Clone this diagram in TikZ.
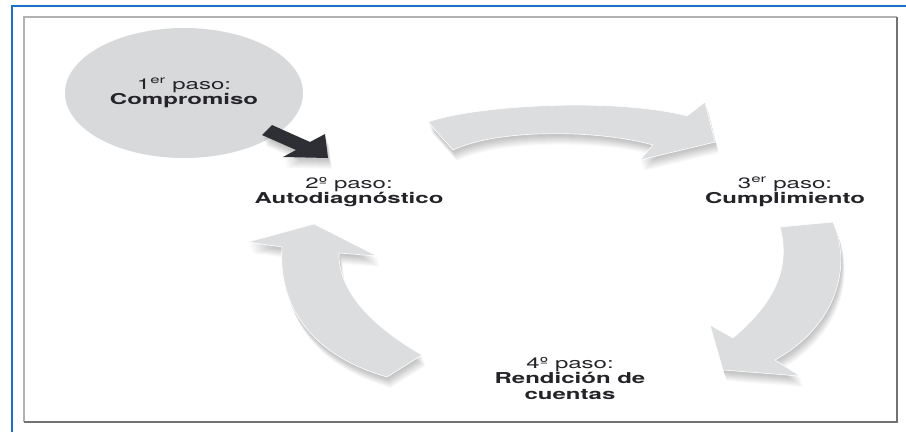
\documentclass[tikz,border=0pt]{standalone}
\usepackage{fontspec}
\setmainfont{TeX Gyre Heros}
\newfontfamily\pasofont{TeX Gyre Heros}[FakeStretch=1.6]
\usepackage{xcolor}
\usetikzlibrary{
	calc,
	shapes.geometric,
	}

\definecolor{azul}{RGB}{25,115,200}
\definecolor{grisarco}{RGB}{220,221,223}
\definecolor{grisbola}{RGB}{216,217,219}
\definecolor{oscuro}{RGB}{46,47,52}
\definecolor{texto}{RGB}{35,35,40}

% contornos de las flechas
\newcommand{\flechauno}{(272,125) -- (310,142) -- (325,134) -- (328,158) -- (283,157) -- (296,150) -- (262,135) -- cycle}
\newcommand{\arcoarriba}{(428,122) .. controls (480,104) and (620,98) .. (687,116) -- (705,102) -- (715,142) -- (640,160) -- (653,145) .. controls (600,130) and (500,128) .. (453,150) -- cycle}
\newcommand{\arcoderecha}{(780,227) -- (833,222) .. controls (852,265) and (838,325) .. (775,360) -- (800,376) -- (723,370) -- (710,325) -- (733,338) .. controls (778,300) and (790,265) .. (780,227) -- cycle}
\newcommand{\arcoizquierda}{(387,377) -- (422,355) .. controls (370,325) and (338,290) .. (339,253) -- (377,256) -- (314,224) -- (248,242) -- (282,247) .. controls (278,305) and (310,355) .. (387,377) -- cycle}

\begin{document}
\begin{tikzpicture}[x=1pt, y=-1pt,
	paso/.style={align=center, text=texto, inner sep=0pt, font=\pasofont\fontsize{15}{15.5}\selectfont},
	sombra/.style={fill=black, opacity=0.022},
	arco/.style={fill=grisarco, draw=white, line width=0.6pt}]
						\useasboundingbox (0,0) rectangle (906,432);
						\fill[white] (0,0) rectangle (906,432);
	
						% marco
						\draw[azul, line width=2pt] (12,432) -- (12,6) -- (906,6);
						\draw[gray!60, line width=1.2pt] (24,422) -- (24,17) -- (897,17);
						\draw[gray!90!black, line width=2pt] (897,17) -- (897,422) -- (24,422);
	
						\node[paso, ellipse, fill=grisbola, minimum width=238pt, minimum height=130pt] (1) at (184,93) {1\textsuperscript{er} paso:\\\textbf{Compromiso}};
						\node[paso] (2) at (349,192) {2º paso:\\\textbf{Autodiagnóstico}};
						\node[paso] (3) at (785,192) {3\textsuperscript{er} paso:\\\textbf{Cumplimiento}};
						\node[paso] (4) at (570,378) {4º paso:\\\textbf{Rendición de}\\\textbf{cuentas}};
	
						% sombras
						\foreach \s in {2,...,11} {
							\fill[sombra, shift={(0.35*\s,\s)}] \flechauno;
							\fill[sombra, shift={(0.35*\s,\s)}] \arcoarriba;
							\fill[sombra, shift={(0.35*\s,\s)}] \arcoderecha;
							\fill[sombra, shift={(0.35*\s,\s)}] \arcoizquierda;
						}
	
						% flechas
						\fill[oscuro] \flechauno;
						\path[arco] \arcoarriba;
						\path[arco] \arcoderecha;
						\path[arco] \arcoizquierda;
					\end{tikzpicture}
\end{document}
